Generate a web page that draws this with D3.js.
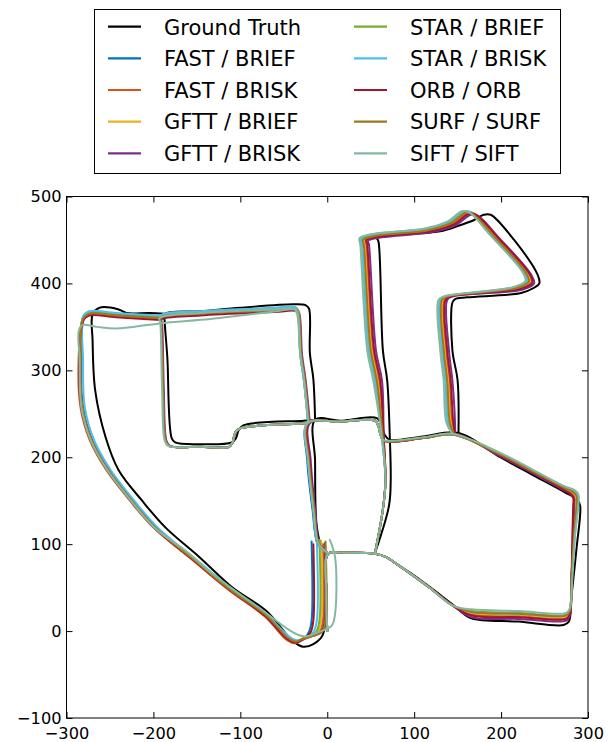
<!DOCTYPE html>
<html>
<head>
<meta charset="utf-8">
<script src="https://cdn.jsdelivr.net/npm/d3@7"></script>
<style>
  body { margin: 0; background: #ffffff; }
  text { font-family: 'DejaVu Sans', sans-serif; fill: #000000; }
</style>
</head>
<body>
<svg width="615" height="742"></svg>
<script>
// tick values of both axes
const xTicks = [-300, -200, -100, 0, 100, 200, 300]
const yTicks = [-100, 0, 100, 200, 300, 400, 500]

// legend labels and line colours, in drawing order
const seriesNames = ['Ground Truth', 'FAST / BRIEF', 'FAST / BRISK', 'GFTT / BRIEF', 'GFTT / BRISK',
  'STAR / BRIEF', 'STAR / BRISK', 'ORB / ORB', 'SURF / SURF', 'SIFT / SIFT']
const seriesColors = ['#000000', '#0072bd', '#d95319', '#edb120', '#7e2f8e',
  '#77ac30', '#4dbeee', '#a2142f', '#a0781c', '#86b8a0']

// trajectories: each one is a list of stretches, each stretch is x,y,x,y,...
const groundTruth = [
  [0,0, -1,45, 1,89, 20,90, 55,89, 68,85, 80,77, 100,64, 119,50, 145,30, 165,15, 220,11, 272,7, 278,11, 281,40, 287,97, 291,144, 288,151, 273,160, 234,181, 199,200, 151,228, 110,224, 72,220, 66,226, 63,235, 57,245, 15,242, -14,243, -14,196, -12,120, -6,96, 1,89],
  [151,228, 150,288, 144,323, 144,378, 147,382, 161,384, 223,389, 238,395, 244,400, 242,410, 215,450, 188,479, 180,479, 169,473, 150,466, 130,460, 100,457, 70,455, 57,453, 59,448, 64,323, 69,288, 72,222, 73,173, 71,144, 55,90],
  [-14,243, -16,290, -20,320, -21,371, -25,375, -39,376, -100,372, -146,368, -187,365, -187,356, -184,315, -179,222, -175,217, -146,215, -110,217, -105,222, -102,231, -96,237, -27,242, -14,243],
  [-187,365, -205,366, -231,366, -240,370, -262,372, -270,364, -270,335, -267,277, -255,223, -240,185, -213,150, -186,119, -147,85, -109,50, -70,23, -40,-11, -28,-18, -16,-15, -5,-4, -2,40, -3,95]
]

const fastBrief = [
  [0,0, -1,45, 1,89, 20,90, 55,89, 68,85, 80,77, 100,63, 119,49, 145,29, 166,21, 220,19, 275,17, 279,22, 281,60, 284,110, 287,145, 287,155, 283,160, 272,165, 234,185, 199,203, 146,226, 110,222, 65,219, 61,227, 59,235, 55,242, 15,241, -23,239, -23,196, -17,140, -11,100, -3,92, 1,89],
  [146,226, 143,240, 140,288, 136,323, 134,381, 140,385, 221,395, 234,402, 230,413, 194,454, 169,480, 161,481, 144,469, 117,461, 59,455, 43,450, 44,445, 52,323, 59,288, 64,222, 67,173, 64,140, 55,90],
  [-22,240, -27,290, -31,318, -34,366, -37,371, -60,370, -146,366, -192,361, -191,354, -189,277, -186,219, -182,213, -146,212, -113,212, -109,217, -106,228, -101,233, -27,239, -22,240],
  [-192,361, -243,364, -274,366, -281,360, -285,315, -283,258, -272,219, -253,185, -226,150, -199,119, -152,80, -112,47, -70,18, -45,-8, -36,-12, -26,-8, -21,-1, -18,12, -18,103]
]

const fastBrisk = [
  [0,0, -1,45, 1,89, 20,90, 55,89, 68,85, 80,77, 100,63, 119,49, 145,29, 166,19, 220,17, 275,15, 279,20, 281,60, 283,110, 285,145, 285,154, 281,159, 272,164, 234,184, 199,202, 146,226, 110,222, 65,219, 61,227, 59,235, 55,242, 15,241, -22,239, -21,196, -16,140, -10,100, -2,92, 1,89],
  [146,226, 143,240, 140,288, 136,323, 134,381, 140,385, 221,394, 234,401, 230,412, 194,453, 169,479, 161,480, 144,468, 117,460, 59,454, 43,450, 44,445, 52,323, 59,288, 64,222, 67,173, 64,140, 55,90],
  [-21,240, -26,290, -30,318, -33,365, -36,370, -60,369, -146,365, -192,360, -191,354, -189,277, -186,219, -182,213, -146,212, -113,212, -109,217, -106,228, -101,233, -27,239, -21,240],
  [-192,360, -243,363, -274,365, -281,359, -286,315, -284,258, -273,219, -254,185, -227,150, -200,119, -153,80, -113,47, -72,17, -47,-10, -38,-14, -26,-9, -9,-1, -5,12, -5,100]
]

const gfttBrief = [
  [0,0, -1,45, 1,89, 20,90, 55,89, 68,85, 80,77, 100,63, 119,49, 145,29, 166,21, 220,19, 275,17, 279,22, 281,60, 284,110, 286,145, 286,155, 282,160, 272,165, 234,185, 199,203, 146,226, 110,222, 65,219, 61,227, 59,235, 55,242, 15,241, -22,239, -21,196, -15,140, -10,100, -2,92, 1,89],
  [146,226, 142,240, 139,288, 135,323, 133,381, 139,385, 220,395, 233,402, 229,413, 193,454, 168,481, 160,482, 143,470, 116,462, 58,456, 42,451, 43,445, 51,323, 58,288, 64,222, 67,173, 64,140, 55,90],
  [-21,240, -26,290, -30,318, -33,366, -36,371, -60,370, -146,366, -192,361, -191,354, -189,277, -186,219, -182,213, -146,212, -113,212, -109,217, -106,228, -101,233, -27,239, -21,240],
  [-192,361, -243,364, -274,366, -281,360, -284,315, -282,258, -271,219, -252,185, -225,150, -198,119, -151,80, -111,47, -70,18, -45,-8, -36,-12, -26,-8, -11,-1, -7,12, -7,104]
]

const gfttBrisk = [
  [0,0, -1,45, 1,89, 20,90, 55,89, 68,85, 80,77, 100,63, 119,49, 145,29, 166,16, 220,14, 275,12, 279,17, 281,60, 283,110, 284,145, 284,153, 280,158, 272,162, 234,183, 199,201, 147,227, 110,222, 66,219, 62,227, 59,235, 55,242, 15,241, -20,239, -19,196, -14,140, -9,100, -2,92, 1,89],
  [147,227, 147,240, 144,288, 140,323, 138,381, 144,385, 225,393, 238,400, 234,411, 198,452, 173,478, 165,479, 148,467, 121,459, 63,453, 47,449, 48,445, 56,323, 63,288, 65,222, 67,173, 64,140, 55,90],
  [-20,240, -25,290, -29,318, -32,365, -35,370, -60,369, -146,365, -191,360, -190,354, -188,277, -185,219, -181,213, -146,212, -113,212, -109,217, -106,228, -101,233, -27,239, -20,240],
  [-191,360, -243,363, -274,365, -280,359, -283,315, -281,258, -270,219, -251,185, -224,150, -197,119, -150,80, -110,47, -70,18, -44,-9, -35,-13, -25,-8, -7,-1, -3,12, -3,101]
]

const starBrief = [
  [0,0, -1,45, 1,89, 20,90, 55,89, 68,85, 80,77, 100,63, 119,49, 145,29, 166,23, 220,21, 275,19, 279,24, 281,60, 284,110, 287,145, 287,156, 283,161, 272,166, 234,186, 199,204, 145,226, 110,222, 65,219, 61,227, 59,235, 55,242, 15,241, -22,239, -21,196, -15,140, -10,100, -2,92, 1,89],
  [145,226, 139,240, 136,288, 132,323, 130,381, 136,385, 217,395, 230,402, 226,413, 190,454, 165,481, 157,482, 140,470, 113,462, 55,456, 39,451, 40,445, 48,323, 55,288, 63,222, 67,173, 64,140, 55,90],
  [-21,240, -26,290, -30,318, -33,367, -36,372, -60,371, -146,367, -192,362, -191,354, -189,277, -186,219, -182,213, -146,212, -113,212, -109,217, -106,228, -101,233, -27,239, -21,240],
  [-192,362, -243,365, -274,367, -281,361, -284,315, -282,258, -271,219, -252,185, -225,150, -198,119, -151,80, -111,47, -70,18, -44,-7, -35,-11, -25,-7, -13,-1, -9,12, -9,105]
]

const starBrisk = [
  [0,0, -1,45, 1,89, 20,90, 55,89, 68,85, 80,77, 100,63, 119,49, 145,29, 166,22, 220,20, 275,18, 279,23, 281,60, 285,110, 288,145, 288,156, 284,161, 272,166, 234,186, 199,204, 145,226, 110,222, 65,219, 61,227, 59,235, 55,242, 15,241, -23,239, -22,196, -16,140, -11,100, -3,92, 1,89],
  [145,226, 139,240, 136,288, 132,323, 130,381, 136,385, 217,396, 230,403, 226,414, 190,455, 165,482, 157,483, 140,471, 113,463, 55,457, 39,452, 40,445, 48,323, 55,288, 63,222, 67,173, 64,140, 55,90],
  [-22,240, -27,290, -31,318, -34,368, -37,373, -60,372, -146,368, -192,363, -191,354, -189,277, -186,219, -182,213, -146,212, -113,212, -109,217, -106,228, -101,233, -27,239, -22,240],
  [-192,363, -243,366, -274,368, -281,362, -281,315, -279,258, -268,219, -249,185, -222,150, -195,119, -148,80, -108,47, -69,18, -43,-7, -34,-11, -24,-7, -16,-1, -12,12, -12,104]
]

const orbOrb = [
  [0,0, -1,45, 1,89, 20,90, 55,89, 68,85, 80,77, 100,63, 119,49, 145,29, 166,18, 220,16, 275,14, 279,19, 281,60, 282,110, 283,145, 283,153, 279,158, 272,163, 234,184, 199,202, 147,227, 110,222, 65,219, 61,227, 59,235, 55,242, 15,241, -21,240, -20,196, -15,140, -10,100, -2,92, 1,89],
  [147,227, 145,240, 142,288, 138,323, 136,381, 142,385, 223,394, 236,401, 232,412, 196,453, 171,479, 163,480, 146,468, 119,460, 61,454, 45,450, 46,445, 54,323, 61,288, 65,222, 67,173, 64,140, 55,90],
  [-21,240, -26,290, -30,318, -33,363, -36,368, -60,367, -146,363, -192,358, -191,354, -189,277, -186,219, -182,213, -146,212, -113,212, -109,217, -106,228, -101,233, -27,239, -21,240],
  [-192,358, -243,361, -274,363, -281,357, -285,315, -283,258, -272,219, -253,185, -226,150, -199,119, -152,80, -112,47, -71,17, -46,-9, -37,-13, -26,-8, -19,-1, -16,12, -16,100]
]

const surfSurf = [
  [0,0, -1,45, 1,89, 20,90, 55,89, 68,85, 80,77, 100,63, 119,49, 145,29, 166,22, 220,20, 275,18, 279,23, 281,60, 284,110, 287,145, 287,155, 283,160, 272,165, 234,185, 199,203, 146,226, 110,222, 65,219, 61,227, 59,235, 55,242, 15,241, -22,239, -21,196, -15,140, -10,100, -2,92, 1,89],
  [146,226, 141,240, 138,288, 134,323, 132,381, 138,385, 219,395, 232,402, 228,413, 192,454, 167,480, 159,481, 142,469, 115,461, 57,455, 41,450, 42,445, 50,323, 57,288, 64,222, 67,173, 64,140, 55,90],
  [-21,240, -26,290, -30,318, -33,365, -36,370, -60,369, -146,365, -192,360, -191,354, -189,277, -186,219, -182,213, -146,212, -113,212, -109,217, -106,228, -101,233, -27,239, -21,240],
  [-192,360, -243,363, -274,365, -281,359, -284,315, -282,258, -271,219, -252,185, -225,150, -198,119, -151,80, -111,47, -70,18, -45,-8, -36,-12, -26,-8, -6,-1, -2,12, -2,103]
]

const siftSift = [
  [0,0, -1,45, 1,89, 20,90, 55,89, 68,85, 80,77, 100,63, 119,49, 145,29, 166,25, 220,23, 275,21, 279,26, 282,60, 285,110, 289,145, 289,157, 285,162, 272,167, 234,187, 199,205, 144,227, 110,223, 64,220, 61,227, 59,235, 55,242, 15,241, -23,239, -22,196, -16,140, -10,100, -2,92, 1,89],
  [144,227, 137,240, 134,288, 130,323, 128,381, 134,385, 215,396, 228,403, 224,414, 188,455, 163,482, 155,483, 138,471, 111,463, 53,457, 37,452, 38,445, 46,323, 53,288, 63,222, 67,173, 64,140, 55,90],
  [-22,240, -27,290, -31,318, -34,366, -37,371, -60,370, -146,366, -193,360, -192,354, -190,277, -187,219, -183,213, -146,212, -113,212, -109,217, -106,228, -101,233, -27,239, -22,240],
  [-22,240, -27,290, -31,318, -35,366, -38,370, -58,368, -100,363, -135,359, -193,354, -243,348, -265,350, -282,352, -286,345, -285,315, -283,258, -272,219, -253,185, -226,150, -199,119, -160,90, -136,69, -80,28, -28,-6, -10,-1, 5,6, 9,20, 9,85, 3,105]
]

const trajectories = [groundTruth, fastBrief, fastBrisk, gfttBrief, gfttBrisk,
  starBrief, starBrisk, orbOrb, surfSurf, siftSift]

// layout
const plot = { left: 66.5, right: 588, top: 196.5, bottom: 718 }

const x = d3.scaleLinear().domain([-300, 300]).range([plot.left, plot.right])
const y = d3.scaleLinear().domain([-100, 500]).range([plot.bottom, plot.top])

const svg = d3.select('svg')

svg.append('rect')
  .attr('width', 615)
  .attr('height', 742)
  .style('fill', '#ffffff')

svg.append('clipPath')
  .attr('id', 'plot-clip')
  .append('rect')
  .attr('x', plot.left)
  .attr('y', plot.top)
  .attr('width', plot.right - plot.left)
  .attr('height', plot.bottom - plot.top)

// turn a flat x,y list into points
const toPoints = flat => d3.range(0, flat.length, 2).map(i => [flat[i], flat[i + 1]])

// centripetal catmull-rom keeps the corners rounded like a driven path
const lineGenerator = d3.line()
  .x(d => x(d[0]))
  .y(d => y(d[1]))
  .curve(d3.curveCatmullRom.alpha(0.5))

const lines = svg.append('g').attr('clip-path', 'url(#plot-clip)')

trajectories.forEach((parts, i) => {
  lines.append('g')
    .selectAll('path')
    .data(parts)
    .enter()
    .append('path')
    .attr('d', d => lineGenerator(toPoints(d)))
    .style('fill', 'none')
    .style('stroke', seriesColors[i])
    .style('stroke-width', 2)
    .style('stroke-linejoin', 'round')
    .style('stroke-linecap', 'round')
})

// axes with inward ticks on all four sides
const fmt = d => d3.format('d')(d)

const styleAxis = g => {
  g.selectAll('.domain').remove()
  g.selectAll('line').style('stroke', '#000000').style('stroke-width', 1)
  g.selectAll('text').style('font-family', "'DejaVu Sans', sans-serif").style('font-size', '16.2px').style('fill', '#000000')
}

svg.append('g')
  .attr('transform', `translate(0, ${plot.bottom})`)
  .call(d3.axisBottom(x).tickValues(xTicks).tickFormat(fmt).tickSizeInner(-6).tickSizeOuter(0).tickPadding(9))
  .call(styleAxis)

svg.append('g')
  .attr('transform', `translate(0, ${plot.top})`)
  .call(d3.axisTop(x).tickValues(xTicks).tickFormat('').tickSizeInner(-6).tickSizeOuter(0))
  .call(styleAxis)

svg.append('g')
  .attr('transform', `translate(${plot.left}, 0)`)
  .call(d3.axisLeft(y).tickValues(yTicks).tickFormat(fmt).tickSizeInner(-6).tickSizeOuter(0).tickPadding(5))
  .call(styleAxis)

svg.append('g')
  .attr('transform', `translate(${plot.right}, 0)`)
  .call(d3.axisRight(y).tickValues(yTicks).tickFormat('').tickSizeInner(-6).tickSizeOuter(0))
  .call(styleAxis)

// frame
svg.append('rect')
  .attr('x', plot.left)
  .attr('y', plot.top)
  .attr('width', plot.right - plot.left)
  .attr('height', plot.bottom - plot.top)
  .style('fill', 'none')
  .style('stroke', '#000000')
  .style('stroke-width', 1)

// legend, two columns of five
const legend = svg.append('g').attr('class', 'legend')

legend.append('rect')
  .attr('x', 94.5)
  .attr('y', 9.5)
  .attr('width', 466)
  .attr('height', 164)
  .style('fill', '#ffffff')
  .style('stroke', '#000000')
  .style('stroke-width', 1)

const entries = legend.selectAll('g.entry')
  .data(seriesNames)
  .enter()
  .append('g')
  .attr('class', 'entry')
  .attr('transform', (d, i) => `translate(${i < 5 ? 108 : 354}, ${26.7 + (i % 5) * 31.65})`)

entries.append('line')
  .attr('x1', 0)
  .attr('x2', 33)
  .attr('y1', 0)
  .attr('y2', 0)
  .style('stroke', (d, i) => seriesColors[i])
  .style('stroke-width', 2.2)

entries.append('text')
  .attr('x', 56)
  .attr('y', 7.8)
  .style('font-size', '21px')
  .text(d => d)
</script>
</body>
</html>
